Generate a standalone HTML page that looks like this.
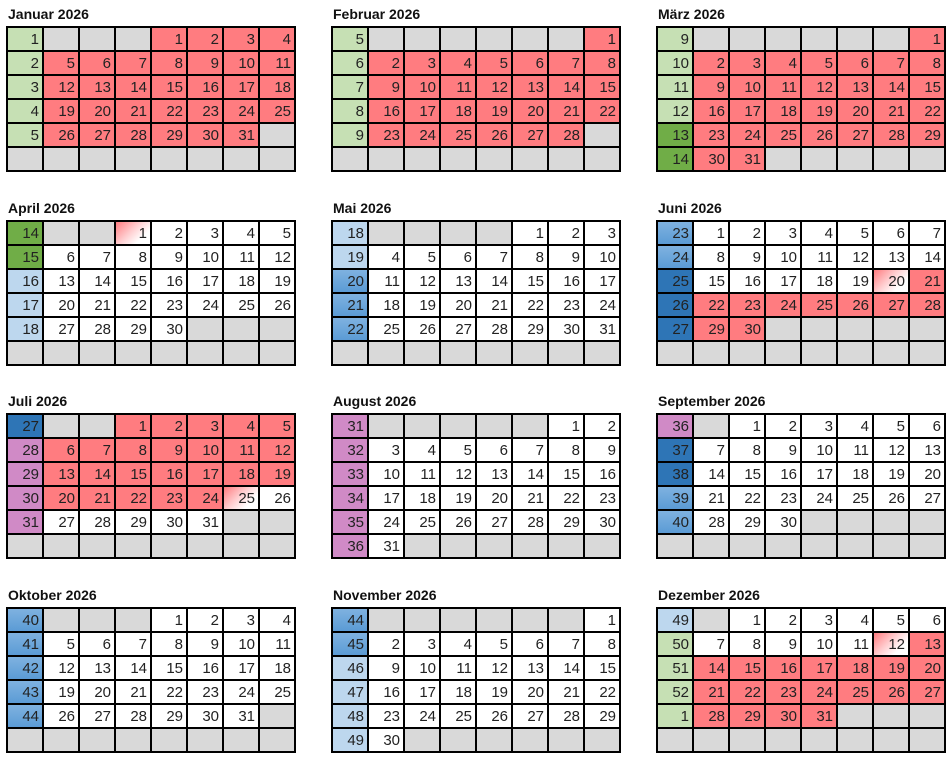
<!DOCTYPE html>
<html><head><meta charset="utf-8"><style>
body{margin:0;width:952px;height:760px;background:#fff;position:relative;overflow:hidden;font-family:"Liberation Sans",sans-serif}
.t{position:absolute;font:bold 14px "Liberation Sans",sans-serif;color:#111}
table{position:absolute;border-collapse:collapse;table-layout:fixed;width:289px;border:2px solid #000}
tr{height:24px}
td{width:31px;border:2px solid #000;text-align:right;padding:0 3px 0 0;font:15px "Liberation Sans",sans-serif;color:#222;background:#fff;line-height:19px}
.g{background:#c6e0b4}.G{background:#70ad47}.b{background:#bdd7ee}.m{background:linear-gradient(#7fb2e0,#5b9bd5)}.B{background:#2e75b6}
.p{background:#d08ac6}.r{background:#ff7c80}.x{background:#d9d9d9}
.f{background:linear-gradient(135deg,#ff7c80 0%,#ffd0d2 45%,#fff 75%)}
</style></head><body>

<div class="t" style="left:8px;top:6px">Januar 2026</div>
<table style="left:6px;top:26px">
<tr><td class=g>1<td class=x><td class=x><td class=x><td class=r>1<td class=r>2<td class=r>3<td class=r>4
<tr><td class=g>2<td class=r>5<td class=r>6<td class=r>7<td class=r>8<td class=r>9<td class=r>10<td class=r>11
<tr><td class=g>3<td class=r>12<td class=r>13<td class=r>14<td class=r>15<td class=r>16<td class=r>17<td class=r>18
<tr><td class=g>4<td class=r>19<td class=r>20<td class=r>21<td class=r>22<td class=r>23<td class=r>24<td class=r>25
<tr><td class=g>5<td class=r>26<td class=r>27<td class=r>28<td class=r>29<td class=r>30<td class=r>31<td class=x>
<tr><td class=x><td class=x><td class=x><td class=x><td class=x><td class=x><td class=x><td class=x>
</table>

<div class="t" style="left:333px;top:6px">Februar 2026</div>
<table style="left:331px;top:26px">
<tr><td class=g>5<td class=x><td class=x><td class=x><td class=x><td class=x><td class=x><td class=r>1
<tr><td class=g>6<td class=r>2<td class=r>3<td class=r>4<td class=r>5<td class=r>6<td class=r>7<td class=r>8
<tr><td class=g>7<td class=r>9<td class=r>10<td class=r>11<td class=r>12<td class=r>13<td class=r>14<td class=r>15
<tr><td class=g>8<td class=r>16<td class=r>17<td class=r>18<td class=r>19<td class=r>20<td class=r>21<td class=r>22
<tr><td class=g>9<td class=r>23<td class=r>24<td class=r>25<td class=r>26<td class=r>27<td class=r>28<td class=x>
<tr><td class=x><td class=x><td class=x><td class=x><td class=x><td class=x><td class=x><td class=x>
</table>

<div class="t" style="left:658px;top:6px">März 2026</div>
<table style="left:656px;top:26px">
<tr><td class=g>9<td class=x><td class=x><td class=x><td class=x><td class=x><td class=x><td class=r>1
<tr><td class=g>10<td class=r>2<td class=r>3<td class=r>4<td class=r>5<td class=r>6<td class=r>7<td class=r>8
<tr><td class=g>11<td class=r>9<td class=r>10<td class=r>11<td class=r>12<td class=r>13<td class=r>14<td class=r>15
<tr><td class=g>12<td class=r>16<td class=r>17<td class=r>18<td class=r>19<td class=r>20<td class=r>21<td class=r>22
<tr><td class=G>13<td class=r>23<td class=r>24<td class=r>25<td class=r>26<td class=r>27<td class=r>28<td class=r>29
<tr><td class=G>14<td class=r>30<td class=r>31<td class=x><td class=x><td class=x><td class=x><td class=x>
</table>

<div class="t" style="left:8px;top:200px">April 2026</div>
<table style="left:6px;top:220px">
<tr><td class=G>14<td class=x><td class=x><td class=f>1<td>2<td>3<td>4<td>5
<tr><td class=G>15<td>6<td>7<td>8<td>9<td>10<td>11<td>12
<tr><td class=b>16<td>13<td>14<td>15<td>16<td>17<td>18<td>19
<tr><td class=b>17<td>20<td>21<td>22<td>23<td>24<td>25<td>26
<tr><td class=b>18<td>27<td>28<td>29<td>30<td class=x><td class=x><td class=x>
<tr><td class=x><td class=x><td class=x><td class=x><td class=x><td class=x><td class=x><td class=x>
</table>

<div class="t" style="left:333px;top:200px">Mai 2026</div>
<table style="left:331px;top:220px">
<tr><td class=b>18<td class=x><td class=x><td class=x><td class=x><td>1<td>2<td>3
<tr><td class=b>19<td>4<td>5<td>6<td>7<td>8<td>9<td>10
<tr><td class=m>20<td>11<td>12<td>13<td>14<td>15<td>16<td>17
<tr><td class=m>21<td>18<td>19<td>20<td>21<td>22<td>23<td>24
<tr><td class=m>22<td>25<td>26<td>27<td>28<td>29<td>30<td>31
<tr><td class=x><td class=x><td class=x><td class=x><td class=x><td class=x><td class=x><td class=x>
</table>

<div class="t" style="left:658px;top:200px">Juni 2026</div>
<table style="left:656px;top:220px">
<tr><td class=m>23<td>1<td>2<td>3<td>4<td>5<td>6<td>7
<tr><td class=m>24<td>8<td>9<td>10<td>11<td>12<td>13<td>14
<tr><td class=B>25<td>15<td>16<td>17<td>18<td>19<td class=f>20<td class=r>21
<tr><td class=B>26<td class=r>22<td class=r>23<td class=r>24<td class=r>25<td class=r>26<td class=r>27<td class=r>28
<tr><td class=B>27<td class=r>29<td class=r>30<td class=x><td class=x><td class=x><td class=x><td class=x>
<tr><td class=x><td class=x><td class=x><td class=x><td class=x><td class=x><td class=x><td class=x>
</table>

<div class="t" style="left:8px;top:393px">Juli 2026</div>
<table style="left:6px;top:413px">
<tr><td class=B>27<td class=x><td class=x><td class=r>1<td class=r>2<td class=r>3<td class=r>4<td class=r>5
<tr><td class=p>28<td class=r>6<td class=r>7<td class=r>8<td class=r>9<td class=r>10<td class=r>11<td class=r>12
<tr><td class=p>29<td class=r>13<td class=r>14<td class=r>15<td class=r>16<td class=r>17<td class=r>18<td class=r>19
<tr><td class=p>30<td class=r>20<td class=r>21<td class=r>22<td class=r>23<td class=r>24<td class=f>25<td>26
<tr><td class=p>31<td>27<td>28<td>29<td>30<td>31<td class=x><td class=x>
<tr><td class=x><td class=x><td class=x><td class=x><td class=x><td class=x><td class=x><td class=x>
</table>

<div class="t" style="left:333px;top:393px">August 2026</div>
<table style="left:331px;top:413px">
<tr><td class=p>31<td class=x><td class=x><td class=x><td class=x><td class=x><td>1<td>2
<tr><td class=p>32<td>3<td>4<td>5<td>6<td>7<td>8<td>9
<tr><td class=p>33<td>10<td>11<td>12<td>13<td>14<td>15<td>16
<tr><td class=p>34<td>17<td>18<td>19<td>20<td>21<td>22<td>23
<tr><td class=p>35<td>24<td>25<td>26<td>27<td>28<td>29<td>30
<tr><td class=p>36<td>31<td class=x><td class=x><td class=x><td class=x><td class=x><td class=x>
</table>

<div class="t" style="left:658px;top:393px">September 2026</div>
<table style="left:656px;top:413px">
<tr><td class=p>36<td class=x><td>1<td>2<td>3<td>4<td>5<td>6
<tr><td class=B>37<td>7<td>8<td>9<td>10<td>11<td>12<td>13
<tr><td class=B>38<td>14<td>15<td>16<td>17<td>18<td>19<td>20
<tr><td class=m>39<td>21<td>22<td>23<td>24<td>25<td>26<td>27
<tr><td class=m>40<td>28<td>29<td>30<td class=x><td class=x><td class=x><td class=x>
<tr><td class=x><td class=x><td class=x><td class=x><td class=x><td class=x><td class=x><td class=x>
</table>

<div class="t" style="left:8px;top:587px">Oktober 2026</div>
<table style="left:6px;top:607px">
<tr><td class=m>40<td class=x><td class=x><td class=x><td>1<td>2<td>3<td>4
<tr><td class=m>41<td>5<td>6<td>7<td>8<td>9<td>10<td>11
<tr><td class=m>42<td>12<td>13<td>14<td>15<td>16<td>17<td>18
<tr><td class=m>43<td>19<td>20<td>21<td>22<td>23<td>24<td>25
<tr><td class=m>44<td>26<td>27<td>28<td>29<td>30<td>31<td class=x>
<tr><td class=x><td class=x><td class=x><td class=x><td class=x><td class=x><td class=x><td class=x>
</table>

<div class="t" style="left:333px;top:587px">November 2026</div>
<table style="left:331px;top:607px">
<tr><td class=m>44<td class=x><td class=x><td class=x><td class=x><td class=x><td class=x><td>1
<tr><td class=m>45<td>2<td>3<td>4<td>5<td>6<td>7<td>8
<tr><td class=b>46<td>9<td>10<td>11<td>12<td>13<td>14<td>15
<tr><td class=b>47<td>16<td>17<td>18<td>19<td>20<td>21<td>22
<tr><td class=b>48<td>23<td>24<td>25<td>26<td>27<td>28<td>29
<tr><td class=b>49<td>30<td class=x><td class=x><td class=x><td class=x><td class=x><td class=x>
</table>

<div class="t" style="left:658px;top:587px">Dezember 2026</div>
<table style="left:656px;top:607px">
<tr><td class=b>49<td class=x><td>1<td>2<td>3<td>4<td>5<td>6
<tr><td class=g>50<td>7<td>8<td>9<td>10<td>11<td class=f>12<td class=r>13
<tr><td class=g>51<td class=r>14<td class=r>15<td class=r>16<td class=r>17<td class=r>18<td class=r>19<td class=r>20
<tr><td class=g>52<td class=r>21<td class=r>22<td class=r>23<td class=r>24<td class=r>25<td class=r>26<td class=r>27
<tr><td class=g>1<td class=r>28<td class=r>29<td class=r>30<td class=r>31<td class=x><td class=x><td class=x>
<tr><td class=x><td class=x><td class=x><td class=x><td class=x><td class=x><td class=x><td class=x>
</table>

</body></html>
